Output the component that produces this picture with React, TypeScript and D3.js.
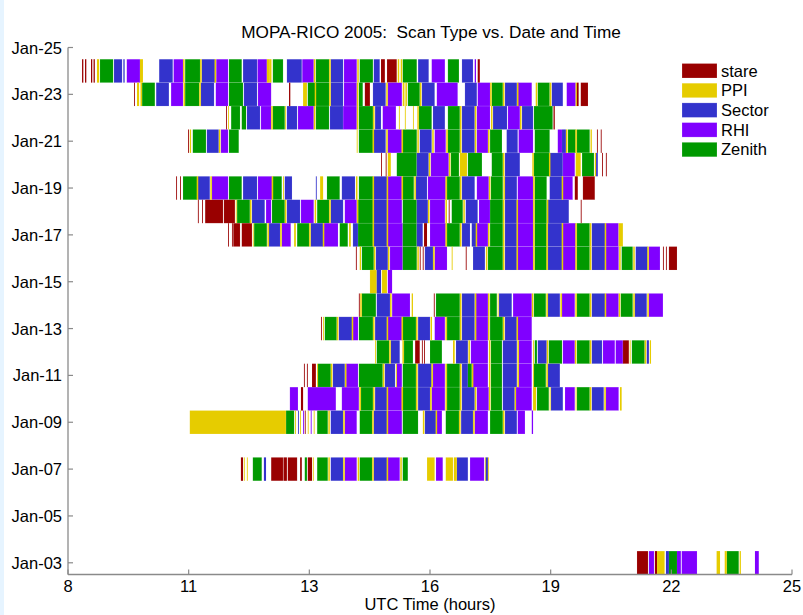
import React from "react";
import * as d3 from "d3";

type Seg = [number, number, string];

const scanTypes = ["stare", "PPI", "Sector", "RHI", "Zenith"];
const scanCodes = ["S", "P", "B", "R", "Z"];
const scanColors = ["#990000", "#e6cc00", "#3333cc", "#8000ff", "#009900"];

const xTickLabels = ["8", "11", "13", "16", "19", "22", "25"];
const yTickDays = [3, 5, 7, 9, 11, 13, 15, 17, 19, 21, 23, 25];

const day24: Seg[] = [[8.33,8.36,"S"],[8.40,8.43,"S"],[8.54,8.57,"S"],[8.60,8.63,"S"],[8.68,8.73,"P"],[8.75,9.06,"Z"],[9.08,9.27,"B"],[9.30,9.33,"B"],[9.38,9.69,"R"],[9.69,9.76,"P"],[10.14,10.46,"B"],[10.48,10.70,"R"],[10.75,11.10,"Z"],[11.14,11.45,"B"],[11.48,11.76,"R"],[11.78,12.08,"Z"],[12.11,12.44,"B"],[12.45,12.67,"R"],[12.67,12.74,"P"],[12.81,13.05,"Z"],[13.14,13.49,"B"],[13.50,13.77,"R"],[13.82,14.13,"Z"],[14.17,14.46,"B"],[14.48,14.78,"R"],[14.85,15.16,"Z"],[15.18,15.32,"B"],[15.35,15.44,"S"],[15.49,15.72,"S"],[15.86,16.19,"Z"],[16.22,16.47,"B"],[16.54,16.85,"R"],[16.92,17.18,"Z"],[17.25,17.51,"B"],[17.55,17.58,"R"],[17.62,17.67,"S"]];
const sep24 = [10.72, 11.12, 11.46, 12.76, 13.79, 14.15, 14.81, 15.76, 15.83];

const day23: Seg[] = [[9.55,9.57,"S"],[9.62,9.67,"P"],[9.74,10.04,"Z"],[10.07,10.37,"B"],[10.42,10.70,"R"],[10.75,11.08,"Z"],[11.12,11.43,"B"],[11.47,11.76,"R"],[11.78,12.11,"Z"],[12.13,12.44,"B"],[12.46,12.77,"R"],[13.19,13.22,"S"],[13.52,13.61,"P"],[13.63,14.13,"Z"],[14.17,14.46,"B"],[14.48,14.78,"R"],[14.83,14.92,"Z"],[14.97,15.09,"S"],[15.16,15.46,"B"],[15.51,15.84,"R"],[15.86,15.90,"P"],[15.98,16.26,"Z"],[16.31,16.61,"B"],[16.66,17.15,"R"],[17.32,17.60,"B"],[17.62,17.91,"R"],[17.95,18.21,"Z"],[18.26,18.54,"B"],[18.56,18.89,"R"],[19.03,19.31,"Z"],[19.36,19.62,"B"],[19.71,19.92,"R"],[19.92,19.95,"P"],[19.95,19.99,"S"],[20.04,20.21,"S"]];
const sep23 = [9.72, 10.73, 11.10, 13.81, 14.15, 14.80, 15.49, 15.94, 16.28, 17.93, 18.23, 18.56, 19.00, 19.33];

const day22: Seg[] = [[11.71,11.73,"S"],[11.76,11.78,"P"],[11.83,12.04,"Z"],[12.08,12.18,"Z"],[12.20,12.51,"B"],[12.53,12.77,"R"],[12.81,13.09,"Z"],[13.10,13.12,"P"],[13.14,13.38,"B"],[13.40,13.77,"R"],[13.82,14.13,"Z"],[14.15,14.46,"B"],[14.46,14.78,"R"],[14.83,15.16,"Z"],[15.21,15.35,"B"],[15.39,15.70,"R"],[15.77,15.79,"P"],[15.91,15.93,"P"],[16.10,16.12,"P"],[16.24,16.54,"Z"],[16.57,16.85,"B"],[16.92,17.20,"Z"],[17.25,17.55,"B"],[17.60,17.91,"R"],[17.98,18.31,"B"],[18.33,18.61,"R"],[18.66,18.92,"B"],[18.94,19.38,"Z"],[19.40,19.43,"S"]];
const sep22 = [12.79, 13.79, 14.80, 15.18, 16.22, 17.22, 17.57, 17.95, 18.63];

const day21: Seg[] = [[10.82,10.84,"S"],[10.86,10.89,"P"],[10.93,11.24,"Z"],[11.26,11.54,"B"],[11.59,11.76,"R"],[11.78,12.01,"Z"],[14.78,14.80,"P"],[14.83,15.16,"Z"],[15.18,15.46,"B"],[15.51,15.84,"R"],[15.86,16.19,"Z"],[16.26,16.54,"B"],[16.61,16.87,"R"],[16.92,17.20,"Z"],[17.25,17.55,"B"],[17.60,17.86,"R"],[17.91,18.19,"Z"],[18.30,18.56,"B"],[18.58,18.92,"R"],[18.96,19.31,"Z"],[19.50,19.60,"R"],[19.60,19.69,"B"],[19.74,19.92,"Z"],[19.95,20.25,"Z"],[20.27,20.30,"P"],[20.42,20.44,"S"],[20.51,20.53,"S"]];
const sep21 = [11.56, 15.17, 15.49, 15.85, 16.22, 16.57, 16.90, 17.22, 17.57, 17.88, 19.71, 19.93];

const day20: Seg[] = [[15.35,15.37,"S"],[15.46,15.48,"S"],[15.51,15.58,"P"],[15.72,16.19,"Z"],[16.19,16.47,"B"],[16.52,16.94,"R"],[16.99,17.18,"Z"],[17.20,17.37,"P"],[17.39,17.72,"Z"],[17.95,18.21,"Z"],[18.26,18.61,"B"],[18.94,19.31,"Z"],[19.31,19.62,"B"],[19.62,19.90,"R"],[19.92,20.04,"P"],[20.07,20.35,"Z"],[20.37,20.40,"P"],[20.40,20.44,"B"],[20.54,20.56,"S"],[20.63,20.65,"S"]];
const sep20 = [16.49, 16.96, 18.23, 18.92, 19.31];

const day19: Seg[] = [[10.54,10.56,"S"],[10.63,10.65,"S"],[10.70,11.03,"Z"],[11.05,11.33,"B"],[11.38,11.76,"R"],[11.78,12.08,"Z"],[12.11,12.44,"B"],[12.46,12.79,"R"],[12.81,13.02,"Z"],[13.05,13.07,"P"],[13.09,13.26,"B"],[13.82,13.84,"B"],[13.92,13.99,"P"],[14.08,14.38,"Z"],[14.43,14.74,"B"],[14.83,15.16,"Z"],[15.18,15.49,"B"],[15.51,15.84,"R"],[15.86,16.12,"Z"],[16.17,16.43,"B"],[16.45,16.87,"R"],[16.90,17.20,"Z"],[17.25,17.55,"B"],[17.60,17.88,"R"],[17.93,18.21,"Z"],[18.26,18.54,"B"],[18.56,18.92,"R"],[18.96,19.24,"Z"],[19.31,19.60,"B"],[19.62,19.85,"R"],[19.90,19.97,"S"],[20.09,20.37,"S"]];
const sep19 = [11.04, 11.36, 12.80, 14.78, 15.17, 15.50, 15.85, 16.15, 16.88, 17.22, 17.90, 18.24, 18.94, 19.61];

const day18: Seg[] = [[11.05,11.07,"S"],[11.15,11.17,"S"],[11.22,11.64,"S"],[11.66,11.92,"S"],[11.94,11.96,"P"],[11.97,12.27,"Z"],[12.32,12.62,"B"],[12.65,12.77,"R"],[12.79,13.09,"Z"],[13.14,13.45,"B"],[13.47,13.77,"R"],[13.85,14.13,"Z"],[14.17,14.46,"B"],[14.50,14.78,"R"],[14.81,15.16,"Z"],[15.18,15.49,"B"],[15.51,15.84,"R"],[15.86,16.19,"Z"],[16.19,16.45,"B"],[16.50,16.85,"R"],[16.94,16.96,"S"],[17.01,17.27,"Z"],[17.34,17.62,"B"],[17.65,17.91,"R"],[17.91,18.21,"Z"],[18.26,18.54,"B"],[18.56,18.92,"R"],[18.96,19.24,"Z"],[19.27,19.76,"B"],[20.04,20.06,"S"]];
const sep18 = [12.29, 13.11, 13.81, 14.15, 14.80, 15.17, 15.50, 16.47, 16.88, 17.30, 18.23, 18.55, 18.94, 19.26];

const day17: Seg[] = [[11.76,11.78,"S"],[11.85,11.87,"S"],[11.88,12.04,"S"],[12.08,12.32,"S"],[12.34,12.36,"P"],[12.37,12.67,"Z"],[12.72,12.98,"B"],[13.02,13.23,"R"],[13.31,13.35,"P"],[13.38,13.66,"Z"],[13.70,13.99,"B"],[14.01,14.34,"R"],[14.38,14.57,"Z"],[14.60,14.64,"P"],[14.69,14.81,"B"],[14.81,15.16,"Z"],[15.18,15.49,"B"],[15.51,15.86,"R"],[15.86,16.19,"Z"],[16.19,16.33,"B"],[16.36,16.43,"S"],[16.50,16.87,"R"],[16.90,17.20,"Z"],[17.25,17.44,"B"],[17.48,17.58,"B"],[17.60,17.86,"R"],[17.91,18.21,"Z"],[18.26,18.54,"B"],[18.56,18.92,"R"],[18.96,19.24,"Z"],[19.27,19.60,"B"],[19.62,19.92,"R"],[19.95,20.25,"Z"],[20.30,20.61,"B"],[20.63,20.93,"R"],[20.93,21.03,"P"]];
const sep17 = [12.70, 13.00, 13.68, 14.00, 15.17, 15.50, 16.88, 17.22, 17.59, 17.88, 18.23, 18.55, 18.94, 19.25, 19.61, 19.93, 20.27, 20.62];

const day16: Seg[] = [[14.76,14.78,"S"],[14.85,14.88,"P"],[14.90,15.18,"Z"],[15.23,15.51,"B"],[15.56,15.86,"R"],[15.86,16.19,"Z"],[16.26,16.28,"S"],[16.33,16.35,"S"],[16.38,16.57,"B"],[16.61,16.90,"R"],[17.01,17.03,"P"],[17.34,17.36,"S"],[17.51,17.79,"B"],[17.86,18.21,"Z"],[18.26,18.54,"B"],[18.56,18.92,"R"],[18.96,19.24,"Z"],[19.27,19.60,"B"],[19.62,19.92,"R"],[19.95,20.25,"Z"],[20.30,20.61,"B"],[20.63,20.93,"R"],[21.00,21.26,"Z"],[21.33,21.61,"B"],[21.64,21.90,"R"],[21.97,21.99,"S"],[22.04,22.06,"S"],[22.11,22.30,"S"]];
const sep16 = [15.20, 15.53, 16.22, 16.59, 17.83, 18.23, 18.55, 18.94, 19.25, 19.61, 19.93, 20.27, 20.62, 20.96, 21.29, 21.62];

const day15: Seg[] = [[15.09,15.25,"P"],[15.25,15.35,"B"],[15.37,15.49,"P"],[15.51,15.61,"R"]];
const sep15: number[] = [];

const day14: Seg[] = [[14.83,14.85,"S"],[14.90,15.23,"Z"],[15.25,15.56,"B"],[15.61,16.03,"R"],[16.07,16.10,"P"],[16.59,16.61,"S"],[16.64,17.20,"Z"],[17.25,17.55,"B"],[17.58,17.86,"R"],[17.91,18.07,"Z"],[18.09,18.11,"P"],[18.12,18.42,"B"],[18.45,18.89,"R"],[18.94,19.22,"Z"],[19.27,19.55,"B"],[19.60,19.90,"R"],[19.95,20.25,"Z"],[20.30,20.61,"B"],[20.63,20.93,"R"],[20.98,21.26,"Z"],[21.31,21.59,"B"],[21.64,21.97,"R"]];
const sep14 = [14.88, 15.58, 17.22, 17.57, 17.88, 18.91, 19.25, 19.58, 19.93, 20.27, 20.62, 20.95, 21.29, 21.62];

const day13: Seg[] = [[13.94,13.96,"S"],[13.99,14.01,"P"],[14.03,14.31,"Z"],[14.36,14.67,"B"],[14.69,14.81,"R"],[14.83,15.16,"Z"],[15.21,15.49,"B"],[15.51,15.84,"R"],[15.86,16.17,"Z"],[16.22,16.50,"B"],[16.61,16.85,"R"],[16.90,17.20,"Z"],[17.25,17.55,"B"],[17.58,17.86,"R"],[17.91,18.21,"Z"],[18.26,18.54,"B"],[18.56,18.89,"R"]];
const sep13 = [14.33, 14.68, 15.18, 15.50, 15.85, 16.19, 16.53, 16.88, 17.22, 17.57, 17.88, 18.23, 18.55];

const day12: Seg[] = [[15.21,15.23,"P"],[15.25,15.54,"Z"],[15.58,15.79,"B"],[15.89,16.10,"Z"],[16.15,16.26,"S"],[16.31,16.33,"S"],[16.36,16.38,"S"],[16.50,16.78,"Z"],[17.04,17.08,"P"],[17.11,17.39,"B"],[17.46,17.86,"R"],[17.93,18.19,"Z"],[18.21,18.54,"B"],[18.59,18.89,"R"],[18.92,18.94,"P"],[18.96,19.01,"Z"],[19.03,19.24,"B"],[19.29,19.60,"Z"],[19.62,19.90,"R"],[19.95,20.25,"Z"],[20.30,20.54,"B"],[20.56,20.84,"R"],[20.86,21.03,"R"],[21.03,21.17,"S"],[21.19,21.21,"P"],[21.24,21.54,"Z"],[21.59,21.64,"B"],[21.66,21.69,"P"]];
const sep12 = [15.56, 15.87, 17.42, 17.90, 18.57, 19.26, 19.92, 20.27, 21.56];

const day11: Seg[] = [[13.54,13.56,"S"],[13.61,13.63,"S"],[13.73,13.82,"S"],[13.85,13.87,"P"],[13.87,14.17,"Z"],[14.22,14.50,"B"],[14.53,14.81,"R"],[14.83,15.39,"Z"],[15.44,15.68,"B"],[15.70,15.72,"P"],[15.72,15.84,"R"],[15.86,16.17,"Z"],[16.22,16.54,"B"],[16.57,16.85,"R"],[16.90,17.20,"Z"],[17.25,17.39,"B"],[17.39,17.48,"Z"],[17.51,17.86,"R"],[17.93,18.19,"Z"],[18.21,18.54,"B"],[18.59,18.89,"R"],[18.92,18.94,"P"],[18.94,19.22,"Z"],[19.27,19.55,"B"]];
const sep11 = [14.19, 14.52, 15.41, 16.19, 16.55, 16.88, 17.22, 17.50, 17.90, 18.57, 19.25];

const day10: Seg[] = [[13.21,13.40,"R"],[13.47,13.52,"S"],[13.63,14.29,"R"],[14.43,14.83,"R"],[14.88,15.16,"Z"],[15.21,15.49,"B"],[15.51,15.84,"R"],[15.86,16.17,"Z"],[16.22,16.50,"B"],[16.54,16.85,"R"],[16.90,17.20,"Z"],[17.25,17.55,"B"],[17.60,17.88,"R"],[17.93,18.19,"Z"],[18.21,18.49,"B"],[18.49,18.52,"P"],[18.52,18.89,"R"],[18.92,18.99,"P"],[19.01,19.29,"Z"],[19.31,19.33,"P"],[19.34,19.62,"B"],[19.67,19.90,"R"],[19.92,19.94,"P"],[19.95,20.25,"Z"],[20.30,20.58,"B"],[20.63,20.93,"R"],[20.96,21.00,"P"]];
const sep10 = [14.86, 15.18, 15.50, 15.85, 16.19, 16.52, 16.88, 17.22, 17.57, 17.90, 20.27, 20.61];

const day09: Seg[] = [[10.86,13.12,"P"],[13.12,13.31,"Z"],[13.33,13.35,"P"],[13.40,13.42,"B"],[13.45,13.47,"P"],[13.52,13.54,"R"],[13.56,13.58,"S"],[13.63,13.65,"P"],[13.70,13.72,"R"],[13.77,13.79,"P"],[13.85,14.10,"Z"],[14.17,14.46,"B"],[14.50,14.78,"R"],[14.85,15.14,"Z"],[15.18,15.49,"B"],[15.51,15.84,"R"],[15.86,16.22,"Z"],[16.38,16.64,"B"],[16.66,16.78,"R"],[16.87,17.18,"Z"],[17.23,17.51,"B"],[17.55,17.86,"R"],[17.91,18.21,"Z"],[18.26,18.54,"B"],[18.56,18.73,"R"],[18.89,18.92,"R"]];
const sep09 = [14.13, 14.48, 15.16, 15.50, 16.35, 16.65, 17.20, 17.53, 18.23];

const day07: Seg[] = [[12.06,12.11,"S"],[12.13,12.15,"P"],[12.20,12.22,"P"],[12.34,12.55,"Z"],[12.60,12.65,"B"],[12.77,13.05,"S"],[13.06,13.14,"S"],[13.16,13.38,"S"],[13.45,13.49,"S"],[13.56,13.61,"Z"],[13.63,13.73,"S"],[13.75,13.77,"P"],[13.85,14.10,"Z"],[14.17,14.46,"B"],[14.50,14.78,"R"],[14.85,15.14,"Z"],[15.18,15.49,"B"],[15.51,15.79,"R"],[15.86,15.98,"Z"],[16.43,16.61,"P"],[16.64,16.80,"R"],[16.87,17.04,"P"],[17.06,17.13,"P"],[17.13,17.39,"B"],[17.44,17.77,"R"],[17.79,17.81,"P"],[17.81,17.86,"B"],[17.86,17.88,"P"]];
const sep07 = [14.13, 14.48, 14.82, 15.16, 15.50, 15.82];

const day03: Seg[] = [[21.36,21.62,"S"],[21.64,21.76,"R"],[21.78,21.83,"S"],[21.83,22.01,"P"],[22.04,22.11,"B"],[22.11,22.30,"Z"],[22.30,22.39,"R"],[22.41,22.77,"R"],[23.23,23.31,"P"],[23.42,23.47,"P"],[23.47,23.75,"Z"],[23.77,23.80,"P"],[24.13,24.22,"R"]];
const sep03: number[] = [];

const rowDays = [24, 23, 22, 21, 20, 19, 18, 17, 16, 15, 14, 13, 12, 11, 10, 9, 7, 3];
const rowSegs = [day24, day23, day22, day21, day20, day19, day18, day17, day16, day15, day14, day13, day12, day11, day10, day09, day07, day03];
const rowSeps = [sep24, sep23, sep22, sep21, sep20, sep19, sep18, sep17, sep16, sep15, sep14, sep13, sep12, sep11, sep10, sep09, sep07, sep03];
const PPI_SEP_HOURS = 0.035;

const W = 803;
const H = 615;
const FONT = "'Liberation Sans', Arial, Helvetica, sans-serif";
const AXIS = "#8a8a8a";

export default function App() {
  const x = d3.scaleLinear().domain([8, 25]).range([68, 792]);
  const y = d3.scaleLinear().domain([2.5, 25]).range([574.5, 47.5]);
  const color = d3.scaleOrdinal<string, string>().domain(scanCodes).range(scanColors);
  const xTicks = d3.range(xTickLabels.length).map((i) => 8 + (i * 17) / (xTickLabels.length - 1));

  const wide: JSX.Element[] = [];
  const thin: JSX.Element[] = [];
  rowDays.forEach((day, ri) => {
    const y0 = y(day + 0.5);
    const h = y(day - 0.5) - y0;
    rowSegs[ri].forEach(([a, b, c], si) => {
      const isWide = b - a >= 0.1;
      const el = (
        <rect
          key={`s${day}-${si}`}
          x={x(a)}
          y={y0}
          width={Math.max(0.8, x(b) - x(a))}
          height={h}
          fill={color(c)}
          stroke={isWide ? "#ffffff" : "none"}
          strokeOpacity={0.2}
          strokeWidth={0.5}
        />
      );
      if (isWide) wide.push(el);
      else thin.push(el);
    });
    rowSeps[ri].forEach((t, si) => {
      thin.push(
        <rect
          key={`p${day}-${si}`}
          x={x(t - PPI_SEP_HOURS / 2)}
          y={y0}
          width={x(t + PPI_SEP_HOURS / 2) - x(t - PPI_SEP_HOURS / 2)}
          height={h}
          fill={color("P")}
        />
      );
    });
  });

  const pad = (d: number) => (d < 10 ? `0${d}` : `${d}`);

  return (
    <div style={{ position: "absolute", left: 0, top: 0, width: W, height: H, background: "#ffffff" }}>
      <svg width={W} height={H} style={{ display: "block" }} fontFamily={FONT}>
        <rect x={0} y={0} width={W} height={H} fill="#ffffff" />
        <rect x={0} y={0} width={4} height={H} fill="#e6f4ff" />
        <text x={431} y={38} textAnchor="middle" fontSize={17.2} fill="#000" style={{ whiteSpace: "pre" }}>
          {"MOPA-RICO 2005:  Scan Type vs. Date and Time"}
        </text>
        <g>{wide}</g>
        <g>{thin}</g>
        <line x1={68} x2={68} y1={y(25)} y2={y(2.5)} stroke={AXIS} strokeWidth={1.3} />
        <line x1={68} x2={792} y1={y(2.5)} y2={y(2.5)} stroke={AXIS} strokeWidth={1.3} />
        {yTickDays.map((d) => (
          <g key={`yt${d}`}>
            <line x1={68} x2={73} y1={y(d)} y2={y(d)} stroke={AXIS} strokeWidth={1.2} />
            <text x={62} y={y(d) + 6} textAnchor="end" fontSize={16.5} fill="#000">
              {`Jan-${pad(d)}`}
            </text>
          </g>
        ))}
        {xTicks.map((t, i) => (
          <g key={`xt${i}`}>
            <line x1={x(t)} x2={x(t)} y1={y(2.5)} y2={y(2.5) - 5} stroke={AXIS} strokeWidth={1.2} />
            <text x={x(t)} y={592} textAnchor="middle" fontSize={16.5} fill="#000">
              {xTickLabels[i]}
            </text>
          </g>
        ))}
        <text x={430} y={610} textAnchor="middle" fontSize={16.5} fill="#000">
          UTC Time (hours)
        </text>
        {scanTypes.map((name, i) => (
          <g key={`lg${name}`}>
            <rect x={682} y={63.5 + i * 19.7} width={35} height={14.5} fill={scanColors[i]} stroke="#ffffff" strokeOpacity={0.3} strokeWidth={0.6} />
            <text x={721} y={63.5 + i * 19.7 + 13} fontSize={16.5} fill="#000">
              {name}
            </text>
          </g>
        ))}
      </svg>
    </div>
  );
}
